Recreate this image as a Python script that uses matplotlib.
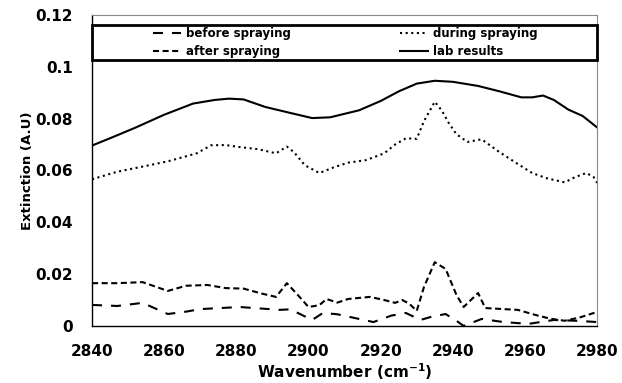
import matplotlib
matplotlib.use("Agg")
import matplotlib.pyplot as plt
from matplotlib.patches import Rectangle

plt.rcParams["font.family"] = ["DejaVu Sans"]
plt.rcParams["font.weight"] = "bold"

# lab results (solid)
lab_x = [2840, 2846, 2852, 2860, 2868, 2874, 2878, 2882, 2888, 2894, 2901, 2906, 2914,
         2920, 2925, 2930, 2935, 2940, 2947, 2953, 2959, 2962, 2965, 2968, 2972, 2976, 2980]
lab_y = [0.0696, 0.0730, 0.0765, 0.0815, 0.0858, 0.0872, 0.0877, 0.0874, 0.0845, 0.0825,
         0.0802, 0.0805, 0.0832, 0.0868, 0.0905, 0.0935, 0.0946, 0.0942, 0.0926, 0.0905,
         0.0882, 0.0882, 0.0889, 0.0872, 0.0835, 0.0810, 0.0766]

# during spraying (dotted)
during_x = [2840, 2847, 2853, 2861, 2869, 2873, 2877, 2881, 2886, 2891, 2894, 2896, 2899,
            2903, 2907, 2911, 2916, 2921, 2924, 2927, 2930, 2932, 2935, 2937, 2939, 2941,
            2944, 2948, 2953, 2958, 2962, 2966, 2971, 2974, 2977, 2979, 2980]
during_y = [0.0566, 0.0595, 0.0612, 0.0635, 0.0666, 0.0697, 0.0698, 0.0690, 0.0682, 0.0666,
            0.0692, 0.0670, 0.0620, 0.0590, 0.0612, 0.0630, 0.0640, 0.0666, 0.0700, 0.0724,
            0.0722, 0.0790, 0.0865, 0.0830, 0.0780, 0.0740, 0.0710, 0.0720, 0.0670, 0.0625,
            0.0590, 0.0570, 0.0554, 0.0575, 0.0590, 0.0575, 0.0552]

# after spraying (short dashes)
after_x = [2840, 2847, 2854, 2861, 2866, 2872, 2877, 2882, 2887, 2891, 2894, 2897, 2900,
           2903, 2905, 2908, 2911, 2917, 2921, 2924, 2926, 2928, 2930, 2932, 2935, 2938,
           2941, 2943, 2947, 2949, 2954, 2958, 2963, 2967, 2971, 2975, 2980]
after_y = [0.0165, 0.0165, 0.0169, 0.0135, 0.0155, 0.0158, 0.0146, 0.0144, 0.0125, 0.0112,
           0.0165, 0.0120, 0.0073, 0.0080, 0.0104, 0.0090, 0.0104, 0.0112, 0.0100, 0.0089,
           0.0100, 0.0085, 0.0058, 0.0150, 0.0246, 0.0220, 0.0120, 0.0073, 0.0127, 0.0069,
           0.0065, 0.0062, 0.0042, 0.0028, 0.0020, 0.0032, 0.0054]

# before spraying (long dashes)
before_x = [2840, 2847, 2854, 2861, 2866, 2870, 2881, 2892, 2895, 2901, 2904, 2908, 2913,
            2918, 2923, 2927, 2931, 2934, 2938, 2941, 2943, 2948, 2954, 2961, 2968, 2974, 2980]
before_y = [0.0081, 0.0077, 0.0089, 0.0046, 0.0055, 0.0065, 0.0073, 0.0062, 0.0064, 0.0023,
            0.0050, 0.0045, 0.0030, 0.0015, 0.0040, 0.0050, 0.0023, 0.0035, 0.0046, 0.0020,
            0.0000, 0.0027, 0.0015, 0.0008, 0.0023, 0.0020, 0.0015]

xticks = [2840, 2860, 2880, 2900, 2920, 2940, 2960, 2980]
yticks = [0, 0.02, 0.04, 0.06, 0.08, 0.1, 0.12]
yticklabels = ["0", "0.02", "0.04", "0.06", "0.08", "0.1", "0.12"]

fig = plt.figure(figsize=(6.22, 3.83), dpi=100)
ax = fig.add_axes([0.148, 0.149, 0.812, 0.812])

kw = dict(color="black", lw=1.5, solid_joinstyle="round", dash_joinstyle="round")
l1, = ax.plot(before_x, before_y, dashes=(4.8, 4.3), **kw)
l2, = ax.plot(during_x, during_y, dashes=(1, 1.7), **kw)
l3, = ax.plot(after_x, after_y, dashes=(2.9, 1.7), **kw)
l4, = ax.plot(lab_x, lab_y, **kw)

ax.set_xlim(2840, 2980)
ax.set_ylim(0, 0.12)
ax.set_xticks(xticks)
ax.set_xticklabels([str(t) for t in xticks], fontsize=11, fontweight="bold")
ax.set_yticks(yticks)
ax.set_yticklabels(yticklabels, fontsize=11, fontweight="bold")
ax.tick_params(length=0)
ax.tick_params(axis="x", pad=13)
ax.tick_params(axis="y", pad=14)

for s in ["top", "right"]:
    ax.spines[s].set_color("#888888")
    ax.spines[s].set_linewidth(0.8)
for s in ["left", "bottom"]:
    ax.spines[s].set_color("black")
    ax.spines[s].set_linewidth(1.0)

ax.set_xlabel("Wavenumber (cm$^{-1}$)", fontsize=11, fontweight="bold", labelpad=2)
ax.set_ylabel("Extinction (A.U)", fontsize=9.5, fontweight="bold", labelpad=1)

# legend box across the top
ax.add_patch(Rectangle((0, 0.855), 1, 0.113, transform=ax.transAxes, fill=False,
                       edgecolor="black", lw=2, zorder=5, clip_on=False))
ax.legend([l1, l3, l2, l4], ["before spraying", "after spraying", "during spraying", "lab results"],
          ncol=2, loc="upper left", bbox_to_anchor=(0.109, 0.979), frameon=False,
          borderpad=0, labelspacing=0.38, handlelength=2.4, handletextpad=0.4,
          columnspacing=9.2, prop={"size": 8.5, "weight": "bold"})

fig.savefig("out.png", dpi=100)
